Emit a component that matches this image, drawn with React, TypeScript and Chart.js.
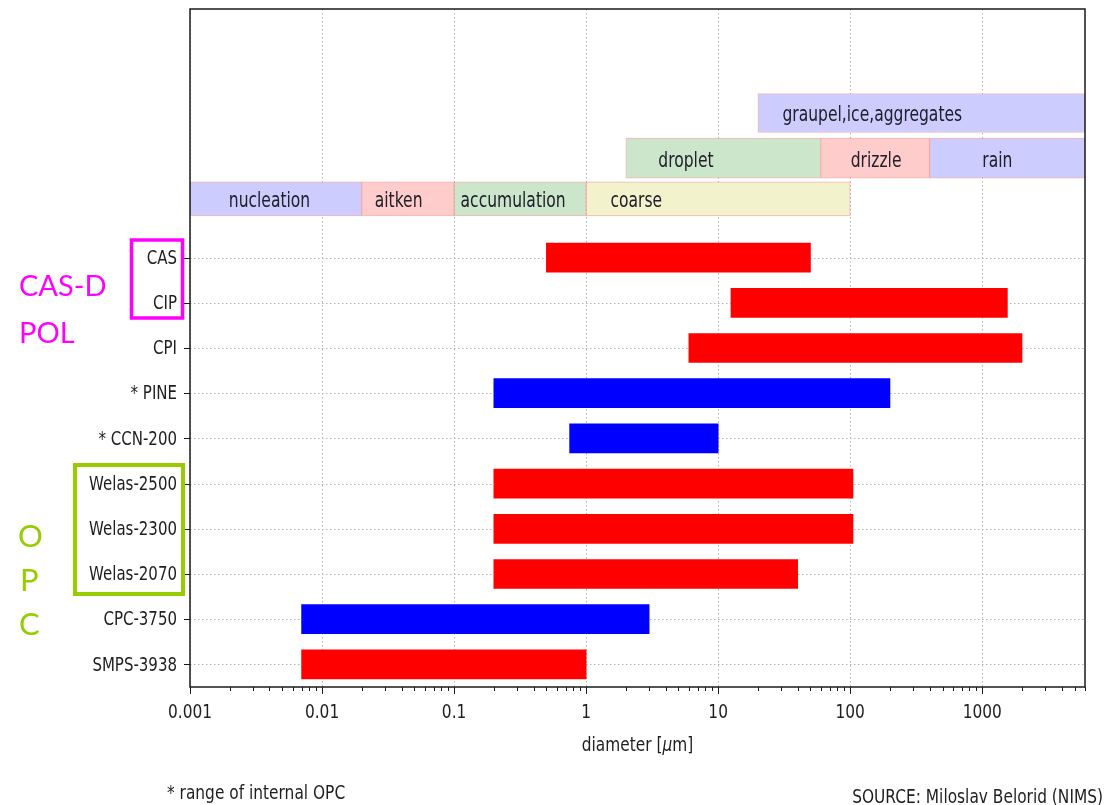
import React, { useEffect, useRef } from "react";
import { Chart, registerables } from "chart.js";

Chart.register(...registerables);

// Instrument rows, bottom to top
const instruments = [
  "SMPS-3938",
  "CPC-3750",
  "Welas-2070",
  "Welas-2300",
  "Welas-2500",
  "* CCN-200",
  "* PINE",
  "CPI",
  "CIP",
  "CAS",
];
// measurable diameter range of each instrument [µm]
const rangeMin = [0.007, 0.007, 0.2, 0.2, 0.2, 0.75, 0.2, 6, 12.5, 0.5];
const rangeMax = [1, 3, 40, 105, 105, 10, 200, 2000, 1550, 50];
// "sizing" instruments vs particle "counting" instruments
const instrumentKind = [
  "sizing",
  "counting",
  "sizing",
  "sizing",
  "sizing",
  "counting",
  "counting",
  "sizing",
  "sizing",
  "sizing",
];

// Particle / hydrometeor size regimes shown above the instruments
const regimes = [
  "nucleation",
  "aitken",
  "accumulation",
  "coarse",
  "droplet",
  "drizzle",
  "rain",
  "graupel,ice,aggregates",
];
const regimeMin = [0.001, 0.02, 0.1, 1, 2, 60, 400, 20];
const regimeMax = [0.02, 0.1, 1, 100, 60, 400, 6000, 6000];
const regimeTier = [0, 0, 0, 0, 1, 1, 1, 2];
// diameter at which each regime name is centred
const regimeLabelAt = [0.004, 0.038, 0.28, 2.4, 5.7, 157, 1300, 147];
// row level of each tier on the y scale
const tierLevel = [10.3, 11.2, 12.2];

// x-axis tick labels (decades)
const xTickValues = [0.001, 0.01, 0.1, 1, 10, 100, 1000];
const xTickLabels = ["0.001", "0.01", "0.1", "1", "10", "100", "1000"];

const X_MIN = 0.001;
const X_MAX = 6000;

const kindColor: Record<string, string> = {
  sizing: "#ff0000",
  counting: "#0000ff",
};
const regimeFill: Record<string, string> = {
  nucleation: "rgb(204,204,255)",
  aitken: "rgb(255,204,204)",
  accumulation: "rgb(204,230,204)",
  coarse: "rgb(242,242,204)",
  droplet: "rgb(204,230,204)",
  drizzle: "rgb(255,204,204)",
  rain: "rgb(204,204,255)",
  "graupel,ice,aggregates": "rgb(204,204,255)",
};
const tierThickness = [34, 40, 39];

const FONT = "'DejaVu Sans', sans-serif";
const SX = 0.77; // horizontal squeeze of the plot lettering

function squeezedText(
  ctx: CanvasRenderingContext2D,
  text: string,
  x: number,
  y: number,
  align: CanvasTextAlign,
  size: number,
  color: string,
  baseline: CanvasTextBaseline = "alphabetic",
  sx = SX
) {
  ctx.save();
  ctx.font = `${size}px ${FONT}`;
  ctx.fillStyle = color;
  ctx.textAlign = align;
  ctx.textBaseline = baseline;
  ctx.translate(x, y);
  ctx.scale(sx, 1);
  ctx.fillText(text, 0, 0);
  ctx.restore();
}

const gridAndFrame = {
  id: "gridAndFrame",
  beforeDatasetsDraw(chart: any) {
    const { ctx, chartArea: a, scales } = chart;
    const xs = scales.x;
    const ys = scales.y;
    ctx.save();
    ctx.strokeStyle = "#b4b4b4";
    ctx.lineWidth = 1;
    ctx.setLineDash([1.5, 2.5]);
    xTickValues.forEach((v) => {
      const px = Math.round(xs.getPixelForValue(v)) + 0.5;
      ctx.beginPath();
      ctx.moveTo(px, a.top);
      ctx.lineTo(px, a.bottom);
      ctx.stroke();
    });
    instruments.forEach((_, i) => {
      const py = Math.round(ys.getPixelForValue(i)) + 0.5;
      ctx.beginPath();
      ctx.moveTo(a.left, py);
      ctx.lineTo(a.right, py);
      ctx.stroke();
    });
    ctx.restore();
  },
  afterDatasetsDraw(chart: any) {
    const { ctx, chartArea: a, scales } = chart;
    const xs = scales.x;
    const ys = scales.y;
    ctx.save();
    ctx.strokeStyle = "#1a1a1a";
    ctx.lineWidth = 1.5;
    ctx.strokeRect(a.left, a.top, a.right - a.left, a.bottom - a.top);

    // x ticks: decades and log minor ticks
    ctx.lineWidth = 1;
    for (let d = -3; d <= 3; d++) {
      for (let m = 1; m <= 9; m++) {
        const v = m * Math.pow(10, d);
        if (v > X_MAX * 1.0001) continue;
        const px = Math.round(xs.getPixelForValue(v)) + 0.5;
        ctx.beginPath();
        ctx.moveTo(px, a.bottom);
        ctx.lineTo(px, a.bottom + (m === 1 ? 7 : 4));
        ctx.stroke();
      }
    }
    // y ticks
    instruments.forEach((_, i) => {
      const py = Math.round(ys.getPixelForValue(i)) + 0.5;
      ctx.beginPath();
      ctx.moveTo(a.left - 6, py);
      ctx.lineTo(a.left, py);
      ctx.stroke();
    });
    ctx.restore();
  },
  afterDraw(chart: any) {
    const { ctx, chartArea: a, scales } = chart;
    const xs = scales.x;
    const ys = scales.y;

    // y tick labels
    instruments.forEach((name, i) => {
      squeezedText(ctx, name, a.left - 13, ys.getPixelForValue(i) + 1, "right", 20, "#1e1e1e", "middle", 0.75);
    });
    // x tick labels
    xTickValues.forEach((v, i) => {
      squeezedText(ctx, xTickLabels[i], xs.getPixelForValue(v), a.bottom + 31, "center", 20, "#1e1e1e");
    });

    // x axis title with italic mu
    ctx.save();
    const parts = [
      { t: "diameter [", f: `20px ${FONT}` },
      { t: "\u03bc", f: `italic 20px ${FONT}` },
      { t: "m]", f: `20px ${FONT}` },
    ];
    let total = 0;
    const widths = parts.map((p) => {
      ctx.font = p.f;
      const w = ctx.measureText(p.t).width * SX;
      total += w;
      return w;
    });
    let cx = (a.left + a.right) / 2 - total / 2;
    ctx.fillStyle = "#1e1e1e";
    ctx.textBaseline = "alphabetic";
    ctx.textAlign = "left";
    parts.forEach((p, i) => {
      ctx.save();
      ctx.font = p.f;
      ctx.translate(cx, a.bottom + 64);
      ctx.scale(SX, 1);
      ctx.fillText(p.t, 0, 0);
      ctx.restore();
      cx += widths[i];
    });
    ctx.restore();

    // regime names
    regimes.forEach((name, i) => {
      const y = ys.getPixelForValue(tierLevel[regimeTier[i]]);
      squeezedText(ctx, name, xs.getPixelForValue(regimeLabelAt[i]), y + 3, "center", 21, "#20202a", "middle", 0.74);
    });

    // footnotes
    squeezedText(ctx, "* range of internal OPC", 167, 799, "left", 20, "#1e1e1e");
    squeezedText(ctx, "SOURCE: Miloslav Belorid (NIMS)", 1103, 803, "right", 20, "#1e1e1e");

    // instrument group call-outs
    ctx.save();
    ctx.lineWidth = 3.5;
    ctx.strokeStyle = "#ff00ff";
    ctx.strokeRect(131.5, 240, 51, 78);
    ctx.strokeStyle = "#99cc00";
    ctx.lineWidth = 4;
    ctx.strokeRect(75, 465, 108, 129);
    ctx.font = "29px Lato, 'Open Sans', sans-serif";
    ctx.textAlign = "left";
    ctx.textBaseline = "alphabetic";
    ctx.fillStyle = "#ff00ff";
    ctx.fillText("CAS-D", 19, 296);
    ctx.fillText("POL", 19, 343);
    ctx.fillStyle = "#99cc00";
    ctx.font = "31px Lato, 'Open Sans', sans-serif";
    ctx.fillText("O", 18, 547);
    ctx.fillText("P", 20, 591);
    ctx.fillText("C", 19, 635);
    ctx.restore();
  },
};

export default function App() {
  const canvasRef = useRef<HTMLCanvasElement | null>(null);

  useEffect(() => {
    const canvas = canvasRef.current;
    if (!canvas) return;

    const instrumentSet = (kind: string) => ({
      label: kind,
      data: instruments
        .map((_, i) => ({ x: [rangeMin[i], rangeMax[i]], y: i, k: instrumentKind[i] }))
        .filter((d) => d.k === kind),
      backgroundColor: kindColor[kind],
      borderWidth: 0,
      barThickness: 29,
      grouped: false,
    });

    const tierSet = (tier: number) => {
      const idx = regimes.map((_, i) => i).filter((i) => regimeTier[i] === tier);
      return {
        label: `tier ${tier}`,
        data: idx.map((i) => ({ x: [regimeMin[i], regimeMax[i]], y: tierLevel[tier] })),
        backgroundColor: idx.map((i) => regimeFill[regimes[i]]),
        borderColor: "rgba(235,120,120,0.55)",
        borderWidth: 1,
        borderSkipped: false,
        barThickness: tierThickness[tier],
        grouped: false,
      };
    };

    const chart = new Chart(canvas, {
      type: "bar",
      data: {
        datasets: [
          instrumentSet("sizing"),
          instrumentSet("counting"),
          tierSet(0),
          tierSet(1),
          tierSet(2),
        ] as any,
      },
      options: {
        animation: false,
        responsive: false,
        devicePixelRatio: 1,
        indexAxis: "y",
        layout: { padding: { top: 9, right: 19, bottom: 0, left: 0 } },
        plugins: {
          legend: { display: false },
          tooltip: { enabled: false },
        },
        scales: {
          x: {
            type: "logarithmic",
            min: X_MIN,
            max: X_MAX,
            position: "bottom",
            ticks: { display: false },
            grid: { display: false },
            border: { display: false },
            afterFit: (s: any) => {
              s.height = 118;
            },
          },
          y: {
            type: "linear",
            min: -0.5,
            max: 14.5,
            offset: false,
            ticks: { display: false },
            grid: { display: false, offset: false },
            border: { display: false },
            afterFit: (s: any) => {
              s.width = 190;
            },
          },
        },
      } as any,
      plugins: [gridAndFrame],
    });

    return () => chart.destroy();
  }, []);

  return (
    <div style={{ position: "absolute", left: 0, top: 0, width: 1104, height: 805, background: "#fff" }}>
      <canvas ref={canvasRef} width={1104} height={805} style={{ display: "block" }} />
    </div>
  );
}
